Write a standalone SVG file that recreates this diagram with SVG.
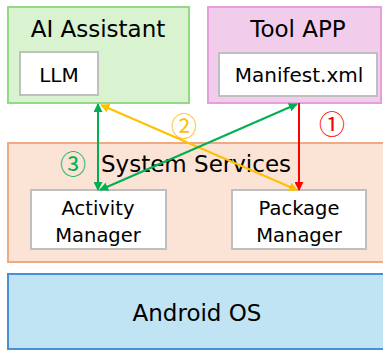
<svg xmlns="http://www.w3.org/2000/svg" width="383" height="352" viewBox="0 0 383 352">
<style>
text{font-family:"DejaVu Sans","Liberation Sans",sans-serif;fill:#000;text-anchor:middle}
.big{font-size:23px}
.mid{font-size:19.5px}
.sm{font-size:20px}
.num{font-family:"Noto Sans CJK SC","DejaVu Sans",sans-serif;font-size:26px}
.inner{fill:#fff;stroke:#bfbfbf;stroke-width:2}
.c{fill:none;stroke-width:2}
</style>
<defs>
<marker id="ag" viewBox="0 0 10 10" refX="9" refY="5" markerWidth="4.5" markerHeight="4.5" orient="auto-start-reverse"><path d="M0,0L10,5L0,10z" fill="#00b050"/></marker>
<marker id="ay" viewBox="0 0 10 10" refX="9" refY="5" markerWidth="4.5" markerHeight="4.5" orient="auto-start-reverse"><path d="M0,0L10,5L0,10z" fill="#ffc000"/></marker>
<marker id="ar" viewBox="0 0 10 10" refX="9" refY="5" markerWidth="4.5" markerHeight="4.5" orient="auto-start-reverse"><path d="M0,0L10,5L0,10z" fill="#ff0000"/></marker>
</defs>
<g id="ai-assistant">
<rect x="8" y="7" width="181" height="96" fill="#d9f2d0" stroke="#93d884" stroke-width="2"/>
<text class="big" x="98" y="37">AI Assistant</text>
<g id="llm"><rect class="inner" x="20" y="52" width="78" height="43"/><text class="sm" x="59" y="82">LLM</text></g>
</g>
<g id="tool-app">
<rect x="208" y="7" width="173" height="96" fill="#f2cdeb" stroke="#e49fdc" stroke-width="2"/>
<text class="big" x="298" y="37">Tool APP</text>
<g id="manifest"><rect class="inner" x="219" y="53" width="158" height="43"/><text class="sm" x="299" y="82">Manifest.xml</text></g>
</g>
<g id="system-services">
<rect x="8" y="143" width="378" height="119" fill="#fbe3d6" stroke="#f1a983" stroke-width="2"/>
<text class="big" x="196" y="172">System Services</text>
<g id="activity-manager"><rect class="inner" x="31" y="190" width="135" height="59"/><text class="mid" x="98" y="215">Activity</text><text class="mid" x="98" y="242">Manager</text></g>
<g id="package-manager"><rect class="inner" x="232" y="190" width="134" height="59"/><text class="mid" x="299" y="215">Package</text><text class="mid" x="299" y="242">Manager</text></g>
</g>
<g id="android-os">
<rect x="8" y="274" width="378" height="75" fill="#c1e4f5" stroke="#4a90d9" stroke-width="2"/>
<text class="big" x="197" y="321">Android OS</text>
</g>
<g id="connectors">
<line class="c" x1="98" y1="104" x2="98" y2="190" stroke="#00b050" marker-start="url(#ag)" marker-end="url(#ag)"/>
<line class="c" x1="101" y1="105" x2="297" y2="190" stroke="#ffc000" marker-start="url(#ay)" marker-end="url(#ay)"/>
<line class="c" x1="297" y1="104" x2="100" y2="190" stroke="#00b050" marker-start="url(#ag)" marker-end="url(#ag)"/>
<line class="c" x1="299" y1="103" x2="299" y2="190" stroke="#ff0000" marker-end="url(#ar)"/>
<text class="num" x="332" y="134" style="fill:#ff0000">①</text>
<text class="num" x="184" y="136" style="fill:#ffc000">②</text>
<text class="num" x="73" y="174" style="fill:#00b050">③</text>
</g>
</svg>
